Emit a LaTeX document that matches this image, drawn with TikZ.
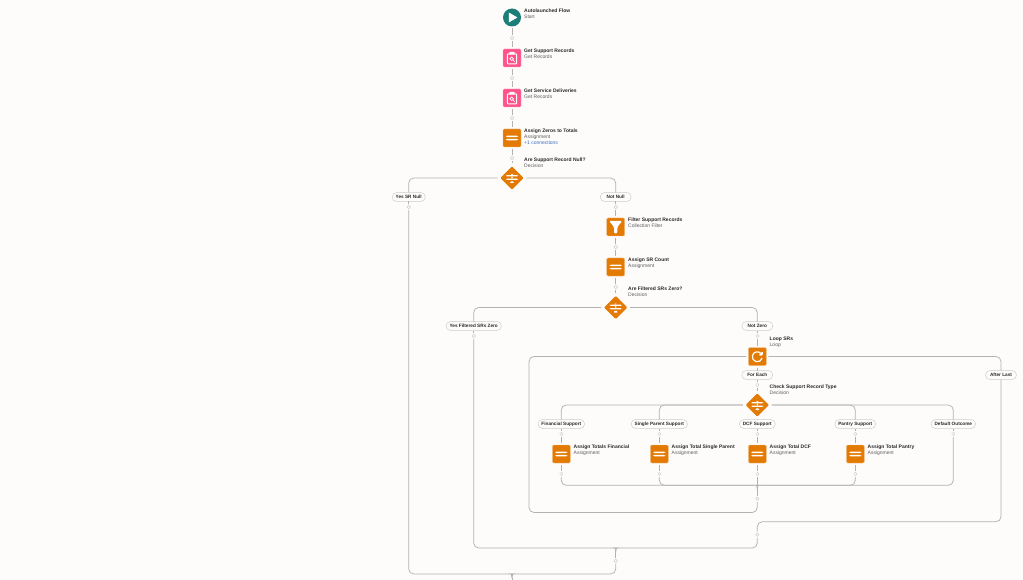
\documentclass[tikz,border=0pt]{standalone}
\usepackage{fontspec}
\setmainfont{Liberation Sans}
\usepackage{tikz}
\usetikzlibrary{shapes.geometric}
\definecolor{bgcol}{HTML}{FEFBFB}
\definecolor{orangecol}{HTML}{E37A03}
\definecolor{pinkcol}{HTML}{FF538A}
\definecolor{tealcol}{HTML}{1B7F78}
\definecolor{linecol}{HTML}{B3B1B1}
\definecolor{dotcol}{HTML}{CFCDCC}
\definecolor{textcol}{HTML}{2A2828}
\definecolor{subcol}{HTML}{5F5D5D}
\definecolor{linkcol}{HTML}{3A6FC4}
\tikzset{
    flow/.style={draw=linecol, line width=0.75pt, rounded corners=5pt},
    dot/.style={shape=circle, draw=dotcol, fill=bgcol, line width=0.5pt, minimum size=3.4pt, inner sep=0pt, outer sep=1.5pt},
    pill/.style={shape=rectangle, rounded corners=4.5pt, draw=dotcol, fill=bgcol, line width=0.5pt, minimum height=9pt, minimum width=31pt, inner xsep=3.5pt, inner ysep=0pt, outer sep=0pt, text=textcol, font=\fontsize{4.7}{5}\selectfont\bfseries},
    lbl/.style={anchor=north west, yshift=-1pt, inner sep=0pt, align=left, text=subcol, font=\fontsize{5}{6}\selectfont},
    boxbase/.style={shape=rectangle, rounded corners=1.2pt, minimum size=18pt, inner sep=0pt, outer sep=2pt},
    assignbox/.style={boxbase, fill=orangecol, draw=orangecol!45!white, line width=0.4pt, path picture={
        \fill[white] ([shift={(-6,-2.4)}]path picture bounding box.center) rectangle ++(12,1.5);
        \fill[white] ([shift={(-6,0.9)}]path picture bounding box.center) rectangle ++(12,1.5);}},
    recordbox/.style={boxbase, fill=pinkcol, draw=pinkcol!45!white, line width=0.4pt, path picture={
        \begin{scope}[shift={(path picture bounding box.center)}]
        \draw[white, line width=1pt, rounded corners=0.8pt] (-4.6,-4.2) rectangle (4.6,6);
        \fill[white, rounded corners=0.4pt] (-2.6,-6.2) rectangle (2.6,-3.4);
        \draw[white, line width=0.7pt] (-0.3,0.8) circle (1.8pt);
        \draw[white, line width=0.8pt] (1,2.1) -- (2.6,3.7);
        \end{scope}}},
    filterbox/.style={boxbase, fill=orangecol, draw=orangecol!45!white, line width=0.4pt, path picture={
        \fill[white] ([shift={(-6.5,-6)}]path picture bounding box.center) -- ++(13,0) -- ++(-4.8,6) -- ++(0,6.5) -- ++(-3.4,0) -- ++(0,-6.5) -- cycle;}},
    loopbox/.style={boxbase, fill=orangecol, draw=orangecol!45!white, line width=0.4pt, path picture={
        \begin{scope}[shift={(path picture bounding box.center)}]
        \draw[white, line width=1.2pt] (4.83,1.6) arc (-15:-310:5pt);
        \fill[white] (5.5,-5.5) -- (5.5,-1) -- (1,-1) -- cycle;
        \end{scope}}},
    startdot/.style={shape=circle, fill=tealcol, minimum size=18pt, inner sep=0pt, outer sep=2pt, path picture={
        \fill[white] ([shift={(-3.2,-5)}]path picture bounding box.center) -- ++(8.6,5) -- ++(-8.6,5) -- cycle;}},
    choice/.style={shape=diamond, fill=orangecol, rounded corners=1pt, minimum size=25pt, inner sep=0pt, outer sep=2pt, path picture={
        \begin{scope}[shift={(path picture bounding box.center)}]
        \fill[white] (-6,-2.8) rectangle (6,-1.6);
        \fill[white] (-6,0.6) rectangle (6,1.8);
        \fill[white] (-1,-4.2) rectangle (1,-2.8);
        \fill[white] (-0.8,-1.6) rectangle (0.8,0.6);
        \fill[white] (-2.5,5) -- (0,2.6) -- (2.5,5) -- cycle;
        \end{scope}}}
}
\begin{document}
\begin{tikzpicture}[x=1pt,y=-1pt]
    \fill[bgcol] (0,0) rectangle (1023,580);
    \useasboundingbox (0,0) rectangle (1023,580);
    % main column
    \node[startdot] at (512,17.5) (S0) {};
    \node[recordbox] at (512,58) (S1) {};
    \node[recordbox] at (512,98) (S2) {};
    \node[assignbox] at (512,138) (S3) {};
    \node[choice] at (512,178) (D0) {};
    \node[dot] at (512,38) (C0) {};
    \node[dot] at (512,78) (C1) {};
    \node[dot] at (512,118) (C2) {};
    \node[dot] at (512,158) (C3) {};
    \node[lbl] at (524,7.5) (L0) {\textcolor{textcol}{\textbf{Autolaunched Flow}}\\Start};
    \node[lbl] at (524,47.5) (L1) {\textcolor{textcol}{\textbf{Get Support Records}}\\Get Records};
    \node[lbl] at (524,87.5) (L2) {\textcolor{textcol}{\textbf{Get Service Deliveries}}\\Get Records};
    \node[lbl] at (524,127.5) (L3) {\textcolor{textcol}{\textbf{Assign Zeros to Totals}}\\Assignment\\\textcolor{linkcol}{+1 connections}};
    \node[lbl] at (524,156.5) (L4) {\textcolor{textcol}{\textbf{Are Support Record Null?}}\\Decision};
    \path [flow] (S0) -- (C0);
    \path [flow] (C0) -- (S1);
    \path [flow] (S1) -- (C1);
    \path [flow] (C1) -- (S2);
    \path [flow] (S2) -- (C2);
    \path [flow] (C2) -- (S3);
    \path [flow] (S3) -- (C3);
    \path [flow] (C3) -- (D0);
    % first split
    \node[pill] at (408.7,197) (P0) {Yes SR Null};
    \node[pill] at (615.7,197) (P1) {Not Null};
    \node[dot] at (408.7,207) (C4) {};
    \node[dot] at (615.7,207) (C5) {};
    \node[filterbox] at (615.7,227) (S4) {};
    \node[assignbox] at (615.7,267) (S5) {};
    \node[choice] at (615.7,307.5) (D1) {};
    \node[dot] at (615.7,247) (C6) {};
    \node[dot] at (615.7,287) (C7) {};
    \node[lbl] at (628,217) (L5) {\textcolor{textcol}{\textbf{Filter Support Records}}\\Collection Filter};
    \node[lbl] at (628,257) (L6) {\textcolor{textcol}{\textbf{Assign SR Count}}\\Assignment};
    \node[lbl] at (628,286) (L7) {\textcolor{textcol}{\textbf{Are Filtered SRs Zero?}}\\Decision};
    \path [flow] (D0) -| (P0);
    \path [flow] (D0) -| (P1);
    \path [flow] (P0) -- (C4);
    \path [flow] (P1) -- (C5);
    \path [flow] (C5) -- (S4);
    \path [flow] (S4) -- (C6);
    \path [flow] (C6) -- (S5);
    \path [flow] (S5) -- (C7);
    \path [flow] (C7) -- (D1);
    % second split
    \node[pill] at (473.7,326) (P2) {Yes Filtered SRs Zero};
    \node[pill] at (757.3,326) (P3) {Not Zero};
    \node[dot] at (473.7,336) (C8) {};
    \node[dot] at (757.3,336) (C9) {};
    \node[loopbox] at (757.3,356.5) (S6) {};
    \node[pill] at (757.3,375) (P4) {For Each};
    \node[pill] at (1001,375) (P5) {After Last};
    \node[dot] at (757.3,385) (C10) {};
    \node[choice] at (757.3,405) (D2) {};
    \node[lbl] at (769.5,335.5) (L8) {\textcolor{textcol}{\textbf{Loop SRs}}\\Loop};
    \node[lbl] at (769.5,384) (L9) {\textcolor{textcol}{\textbf{Check Support Record Type}}\\Decision};
    \path [flow] (D1) -| (P2);
    \path [flow] (D1) -| (P3);
    \path [flow] (P2) -- (C8);
    \path [flow] (P3) -- (C9);
    \path [flow] (C9) -- (S6);
    \path [flow] (S6) -- (P4);
    \path [flow] (P4) -- (C10);
    \path [flow] (C10) -- (D2);
    \path [flow] (S6) -| (P5);
    % outcomes of the type check
    \node[pill] at (561.3,424) (P6) {Financial Support};
    \node[pill] at (659.3,424) (P7) {Single Parent Support};
    \node[pill] at (757.3,424) (P8) {DCF Support};
    \node[pill] at (855.3,424) (P9) {Pantry Support};
    \node[pill] at (953.3,424) (P10) {Default Outcome};
    \node[dot] at (561.3,434) (C11) {};
    \node[dot] at (659.3,434) (C12) {};
    \node[dot] at (757.3,434) (C13) {};
    \node[dot] at (855.3,434) (C14) {};
    \node[dot] at (953.3,434) (C15) {};
    \node[assignbox] at (561.3,454) (S7) {};
    \node[assignbox] at (659.3,454) (S8) {};
    \node[assignbox] at (757.3,454) (S9) {};
    \node[assignbox] at (855.3,454) (S10) {};
    \node[dot] at (561.3,474) (C16) {};
    \node[dot] at (659.3,474) (C17) {};
    \node[dot] at (757.3,474) (C18) {};
    \node[dot] at (855.3,474) (C19) {};
    \node[lbl] at (573.5,444) (L10) {\textcolor{textcol}{\textbf{Assign Totals Financial}}\\Assignment};
    \node[lbl] at (671.5,444) (L11) {\textcolor{textcol}{\textbf{Assign Total Single Parent}}\\Assignment};
    \node[lbl] at (769.5,444) (L12) {\textcolor{textcol}{\textbf{Assign Total DCF}}\\Assignment};
    \node[lbl] at (867.5,444) (L13) {\textcolor{textcol}{\textbf{Assign Total Pantry}}\\Assignment};
    \path [flow] (D2) -| (P6);
    \path [flow] (D2) -| (P7);
    \path [flow] (D2) -- (P8);
    \path [flow] (D2) -| (P9);
    \path [flow] (D2) -| (P10);
    \foreach \p/\c/\s/\e in {P6/C11/S7/C16, P7/C12/S8/C17, P8/C13/S9/C18, P9/C14/S10/C19}{
        \path [flow] (\p) -- (\c);
        \path [flow] (\c) -- (\s);
        \path [flow] (\s) -- (\e);
    }
    \path [flow] (P10) -- (C15);
    % merge under the outcomes
    \coordinate (M0) at (757.3,489);
    \coordinate (M0l) at (753.5,485.3);
    \coordinate (M0r) at (761.1,485.3);
    \node[dot] at (757.3,498.7) (C20) {};
    \path [flow] (C16) |- (M0l) .. controls (756.5,485.3) .. (M0);
    \path [flow] (C17) |- (M0l);
    \path [flow] (C18) -- (M0);
    \path [flow] (C19) |- (M0r) .. controls (758.1,485.3) .. (M0);
    \path [flow] (C15) |- (M0r);
    \path [flow] (M0) -- (C20);
    % loop back
    \coordinate (K0) at (529,512.5);
    \path [flow] (S6) -| (K0) -| (C20);
    % after last
    \coordinate (K1) at (1001,521.7);
    \coordinate (K2) at (757.3,521.7);
    \node[dot] at (757.3,534.7) (C21) {};
    \path [flow] (P5) -- (K1) -- (K2) -- (C21);
    % lower merges
    \coordinate (M1) at (615.7,552);
    \coordinate (M1l) at (611.9,548);
    \coordinate (M1r) at (619.5,548);
    \node[dot] at (615.7,561) (C22) {};
    \coordinate (M2) at (512,578);
    \coordinate (M2l) at (508.2,574);
    \coordinate (M2r) at (515.8,574);
    \path [flow] (C8) |- (M1l) .. controls (614.9,548) .. (M1);
    \path [flow] (C21) |- (M1r) .. controls (616.5,548) .. (M1);
    \path [flow] (M1) -- (C22);
    \path [flow] (C4) |- (M2l) .. controls (511.2,574) .. (M2);
    \path [flow] (C22) |- (M2r) .. controls (512.8,574) .. (M2);
    \path [flow] (M2) -- (512,581);
\end{tikzpicture}
\end{document}
